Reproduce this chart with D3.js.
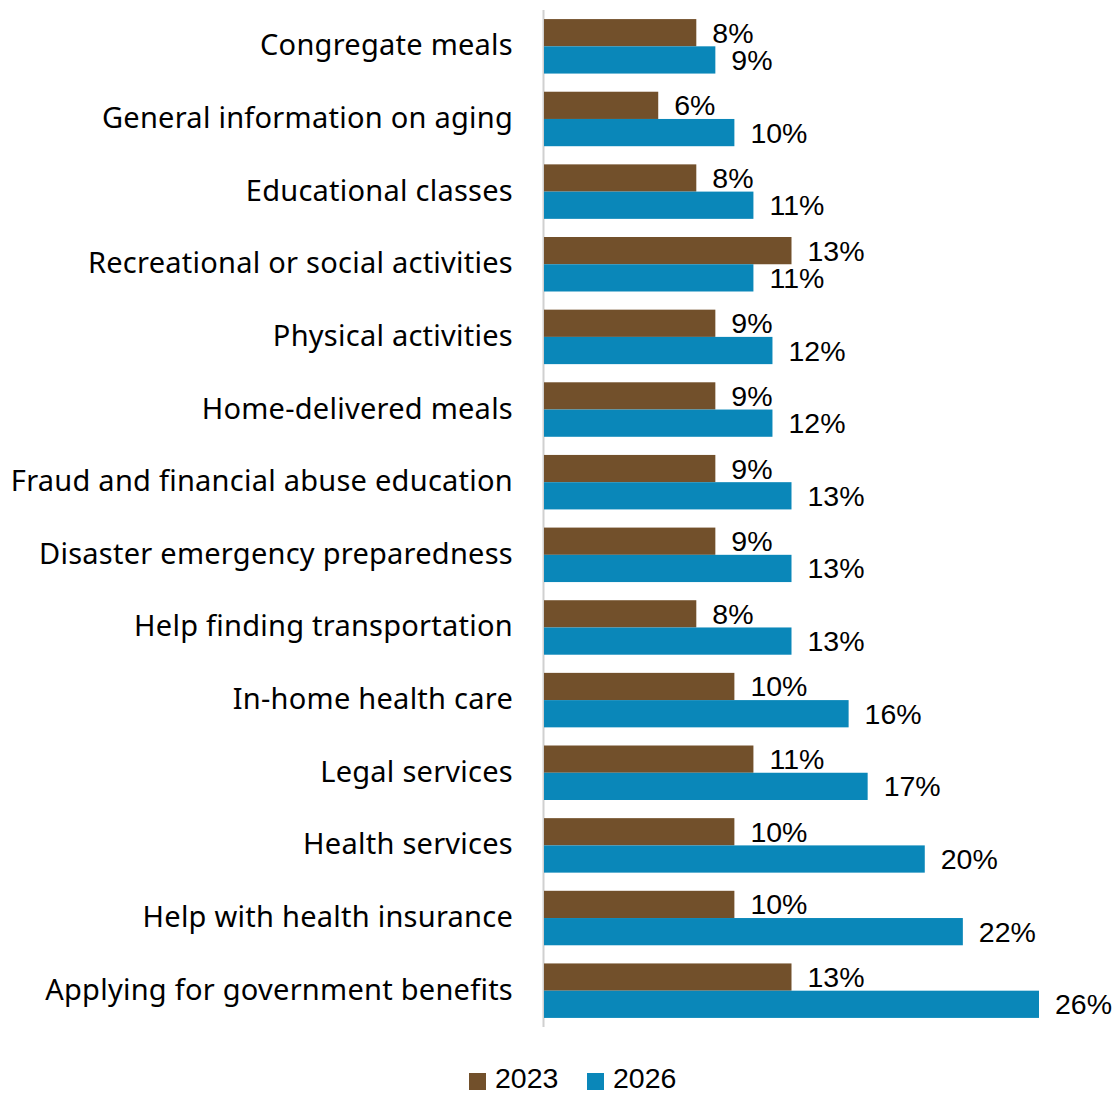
<!DOCTYPE html>
<html>
<head>
<meta charset="utf-8">
<script src="https://cdn.jsdelivr.net/npm/d3@7"></script>
<style>
  body { margin: 0; background: #fff; }
  .cat { font-family: "Noto Sans", sans-serif; font-size: 29px; letter-spacing: 0.25px; fill: #000; }
  .val { font-family: "Liberation Sans", Arial, sans-serif; font-size: 28.5px; fill: #000; }
</style>
</head>
<body>
<div class="chart"></div>
<script>
// categorías de arriba a abajo
var categories = [
  "Congregate meals",
  "General information on aging",
  "Educational classes",
  "Recreational or social activities",
  "Physical activities",
  "Home-delivered meals",
  "Fraud and financial abuse education",
  "Disaster emergency preparedness",
  "Help finding transportation",
  "In-home health care",
  "Legal services",
  "Health services",
  "Help with health insurance",
  "Applying for government benefits"
];
var values2023 = [8, 6, 8, 13, 9, 9, 9, 9, 8, 10, 11, 10, 10, 13];
var values2026 = [9, 10, 11, 11, 12, 12, 13, 13, 13, 16, 17, 20, 22, 26];
var seriesNames = ["2023", "2026"];
var colors = ["#72502B", "#0A87B9"];

var W = 1120, H = 1095;
var margin = {top: 10, right: 81, bottom: 68, left: 544};
var w = W - margin.left - margin.right;
var h = H - margin.top - margin.bottom;

var svg = d3.select(".chart").append("svg")
    .attr("width", W)
    .attr("height", H);

var mainG = svg.append("g")
    .attr("transform", "translate(" + margin.left + "," + margin.top + ")");

var x = d3.scaleLinear().domain([0, 26]).range([0, 495]);

var y = d3.scaleBand().domain(categories).range([0, h]).paddingInner(0.25).paddingOuter(0.125);
var y1 = d3.scaleBand().domain(seriesNames).range([0, y.bandwidth()]);

var datos = categories.map(function(c, i) {
  return {cat: c, vals: [values2023[i], values2026[i]]};
});

// línea del eje
mainG.append("line")
  .attr("x1", -0.5).attr("x2", -0.5)
  .attr("y1", 0).attr("y2", h)
  .attr("stroke", "#d0d0d0").attr("stroke-width", 2);

var groups = mainG.selectAll(".grp")
  .data(datos)
  .enter().append("g")
  .attr("class", "grp")
  .attr("transform", function(d) { return "translate(0," + y(d.cat) + ")"; });

groups.selectAll("rect")
  .data(function(d) { return d.vals.map(function(v, k) { return {k: k, v: v}; }); })
  .enter().append("rect")
  .attr("x", 0)
  .attr("y", function(d) { return y1(seriesNames[d.k]); })
  .attr("width", function(d) { return x(d.v); })
  .attr("height", y1.bandwidth())
  .attr("fill", function(d) { return colors[d.k]; });

groups.selectAll(".val")
  .data(function(d) { return d.vals.map(function(v, k) { return {k: k, v: v}; }); })
  .enter().append("text")
  .attr("class", "val")
  .attr("x", function(d) { return x(d.v) + 16; })
  .attr("y", function(d) { return y1(seriesNames[d.k]) + y1.bandwidth() / 2 + 10; })
  .text(function(d) { return d.v + "%"; });

// etiquetas de categoría
mainG.selectAll(".cat")
  .data(categories)
  .enter().append("text")
  .attr("class", "cat")
  .attr("x", -31)
  .attr("y", function(d) { return y(d) + y.bandwidth() / 2 + 9; })
  .attr("text-anchor", "end")
  .text(function(d) { return d; });

// leyenda
var legend = svg.append("g").attr("transform", "translate(469,1070)");
var lx = [0, 118];
seriesNames.forEach(function(s, k) {
  legend.append("rect")
    .attr("x", lx[k]).attr("y", 3)
    .attr("width", 17).attr("height", 17)
    .attr("fill", colors[k]);
  legend.append("text")
    .attr("class", "val")
    .attr("x", lx[k] + 26).attr("y", 18)
    .text(s);
});
</script>
</body>
</html>
